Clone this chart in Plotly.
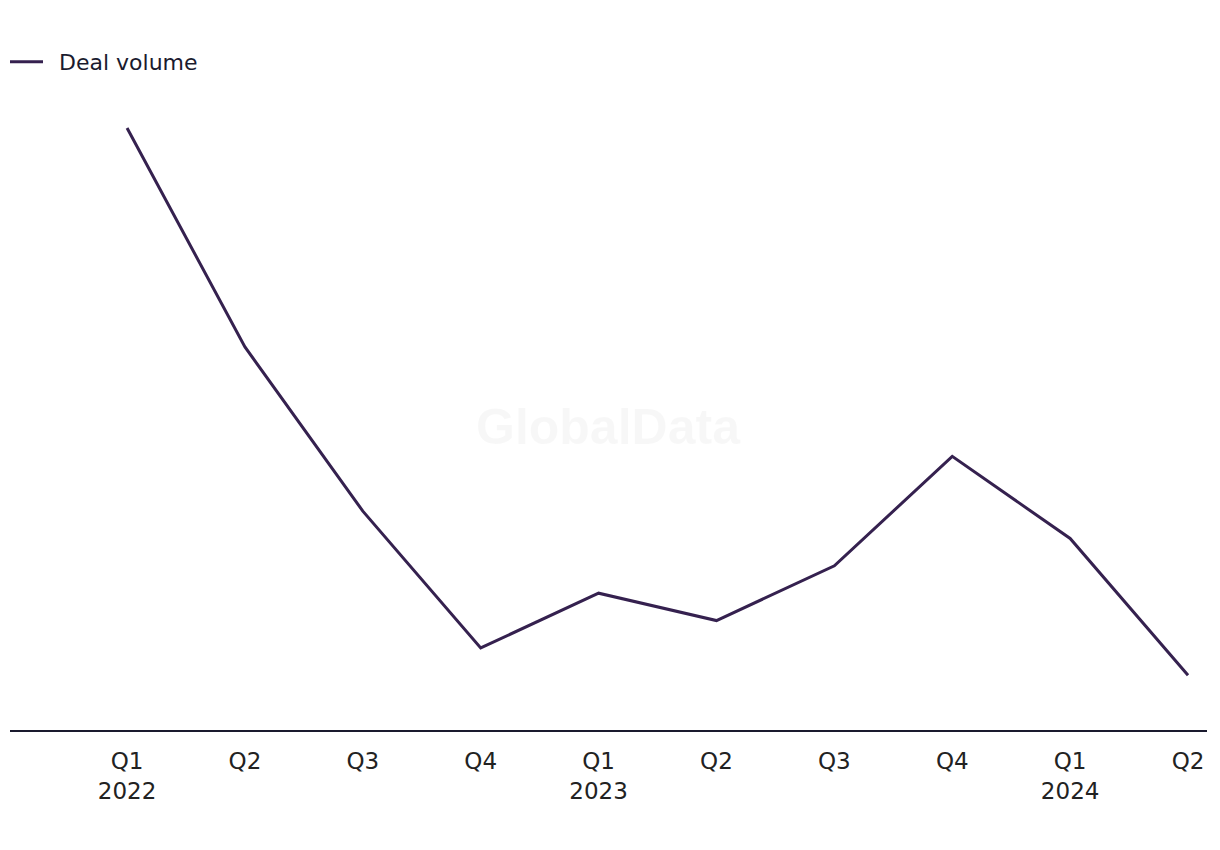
import plotly.graph_objects as go

quarters = ["Q1<br>2022", "Q2", "Q3", "Q4", "Q1<br>2023", "Q2", "Q3", "Q4", "Q1<br>2024", "Q2"]
deal_volume = [44, 28, 16, 6, 10, 8, 12, 20, 14, 4]

x_idx = list(range(len(quarters)))

FONT = "DejaVu Sans, Liberation Sans, sans-serif"

fig = go.Figure()
fig.add_trace(go.Scatter(
    x=x_idx, y=deal_volume, mode="lines", name="\u2002Deal volume",
    line=dict(color="#35214f", width=3),
))

fig.update_layout(
    width=1220, height=850,
    margin=dict(l=10, r=13, t=100, b=120),
    paper_bgcolor="white", plot_bgcolor="white",
    showlegend=True,
    legend=dict(orientation="h", x=5 / 1220, xref="container", y=1 - 41 / 850, yref="container",
                xanchor="left", yanchor="top",
                font=dict(family=FONT, size=22, color="#1a1a2e"),
                itemwidth=33, bgcolor="rgba(0,0,0,0)"),
    xaxis=dict(
        tickmode="array", tickvals=x_idx, ticktext=quarters,
        range=[-0.993, 9.161], showgrid=False, zeroline=False,
        showline=True, linecolor="#1a1a2e", linewidth=2,
        ticks="", ticklabelstandoff=9,
        tickfont=dict(family=FONT, size=23, color="#222222"),
    ),
    yaxis=dict(range=[0, 46.05], showgrid=False, zeroline=False, showticklabels=False,
               showline=False),
    annotations=[dict(text="<b>GlobalData</b>", x=0.5, y=0.481, xref="paper", yref="paper",
                      showarrow=False, font=dict(family="Liberation Sans, Arial, sans-serif",
                                                 size=50, color="rgba(0,0,0,0.03)"))],
)

fig.write_html("out.html")
